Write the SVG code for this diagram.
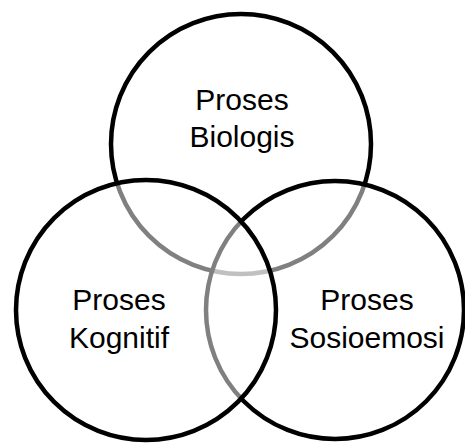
<svg xmlns="http://www.w3.org/2000/svg" width="465" height="443" viewBox="0 0 465 443">
<style>
.c{fill:#fff;fill-opacity:0.5;stroke:#000;stroke-width:4.5}
.t{font-family:"Liberation Sans",Arial,sans-serif;font-size:30px;fill:#000;text-anchor:middle}
</style>
<rect width="465" height="443" fill="#fff"/>
<g id="biologis">
<circle class="c" cx="241" cy="144" r="130"/>
<text class="t" x="242" y="110">Proses</text>
<text class="t" x="242" y="147">Biologis</text>
</g>
<g id="sosioemosi">
<circle class="c" cx="335" cy="310" r="129"/>
<text class="t" x="367" y="310">Proses</text>
<text class="t" x="367" y="348">Sosioemosi</text>
</g>
<g id="kognitif">
<circle class="c" cx="146" cy="310" r="130"/>
<text class="t" x="119" y="310">Proses</text>
<text class="t" x="119" y="348">Kognitif</text>
</g>
</svg>
